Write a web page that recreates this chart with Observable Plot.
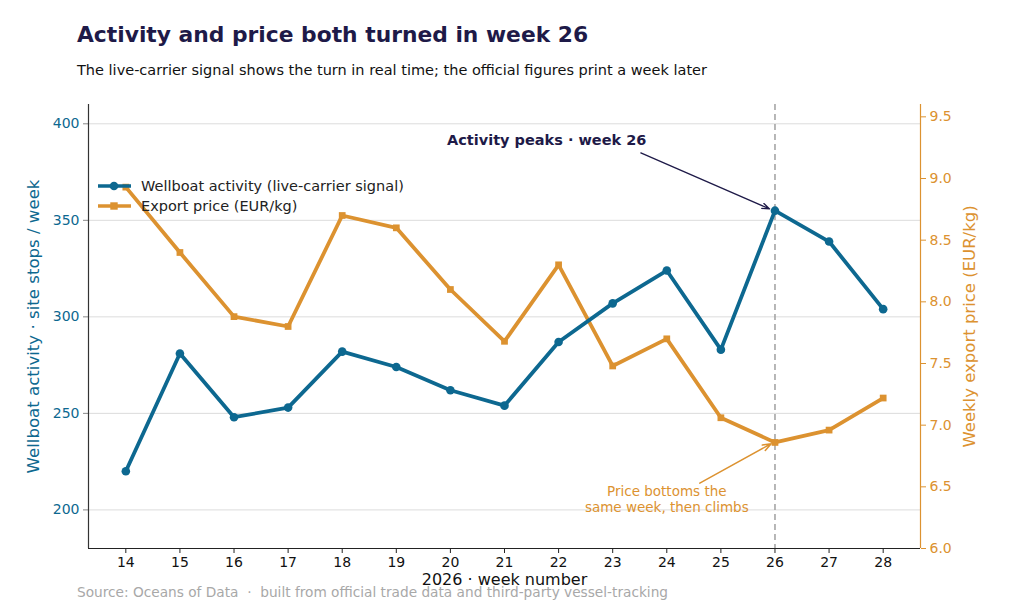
<!DOCTYPE html>
<html><head><meta charset="utf-8">
<script src="https://cdn.jsdelivr.net/npm/d3@7"></script>
<script src="https://cdn.jsdelivr.net/npm/@observablehq/plot@0.6"></script>
<style>
body{margin:0;background:#fff;font-family:"DejaVu Sans",sans-serif;}
#wrap{position:relative;width:1024px;height:616px;overflow:hidden;background:#fff;}
#title{position:absolute;left:77px;top:22px;font-size:21.8px;font-weight:bold;color:#1e1a48;white-space:nowrap;}
#sub{position:absolute;left:77px;top:62px;font-size:14.5px;color:#111;white-space:nowrap;}
#chart{position:absolute;left:0;top:90px;}
#legend{position:absolute;left:98px;top:176px;font-size:14.5px;color:#222;}
#legend .row{display:flex;align-items:center;height:20px;white-space:nowrap;}
#legend svg{margin-right:10px;}
#cap{position:absolute;left:77px;top:584px;font-size:13.7px;color:#a8a8a8;white-space:pre;}
</style></head>
<body><div id="wrap">
<div id="title">Activity and price both turned in week 26</div>
<div id="sub">The live-carrier signal shows the turn in real time; the official figures print a week later</div>
<div id="chart"></div>
<div id="cap">Source: Oceans of Data  ·  built from official trade data and third-party vessel-tracking</div>
<div id="legend"></div>
</div>
<script>
const weeks = [14,15,16,17,18,19,20,21,22,23,24,25,26,27,28];
const activity = [220,281,248,253,282,274,262,254,287,307,324,283,355,339,304];
const price = [8.93,8.40,7.88,7.80,8.70,8.60,8.10,7.68,8.30,7.48,7.70,7.06,6.86,6.96,7.22];
const activityTicks = [200,250,300,350,400];
const priceTicks = [6.0,6.5,7.0,7.5,8.0,8.5,9.0,9.5];
const xDomain = [13.31, 28.69];
const yDomain = [180, 410];
const priceDomain = [6.0, 9.6];
const peakWeek = 26;

const BLUE = "#0d6890";
const ORANGE = "#dc9230";
const NAVY = "#1e1a48";

const toY = p => yDomain[0] + (p - priceDomain[0]) / (priceDomain[1] - priceDomain[0]) * (yDomain[1] - yDomain[0]);
const fromY = v => priceDomain[0] + (v - yDomain[0]) / (yDomain[1] - yDomain[0]) * (priceDomain[1] - priceDomain[0]);

const actData = weeks.map((w,i)=>({week:w, value:activity[i]}));
const priceData = weeks.map((w,i)=>({week:w, value:toY(price[i])}));

// annotations (data units)
const peakNote = {x:21.78, y:391.2, text:"Activity peaks · week 26"};
const peakArrow = {x1:23.52, y1:384.9, x2:25.9, y2:355.9};
const priceNote = {x:24.0, p:6.40, text:"Price bottoms the\nsame week, then climbs"};
const priceArrow = {x1:24.61, p1:6.53, x2:25.93, p2:6.85};

const chart = Plot.plot({
  width:1024, height:526,
  marginTop:14, marginBottom:68, marginLeft:88, marginRight:104,
  style:{fontFamily:"DejaVu Sans", fontSize:"14px", background:"white", overflow:"visible"},
  x:{domain:xDomain, label:null},
  y:{domain:yDomain, label:null},
  marks:[
    Plot.gridY(activityTicks, {stroke:"#dcdcdc", strokeOpacity:1, strokeWidth:1}),
    Plot.ruleX([peakWeek], {stroke:"#a0a0a0", strokeWidth:1.5, strokeDasharray:"6,4"}),
    Plot.axisX(weeks, {tickFormat:d=>String(d), tickSize:5, stroke:"#222", color:"#111", label:null, tickPadding:4}),
    Plot.axisY(activityTicks, {anchor:"left", tickSize:5, color:BLUE, stroke:"#888", label:null, tickPadding:4}),
    Plot.axisY(priceTicks.map(toY), {anchor:"right", tickSize:5, color:ORANGE, stroke:ORANGE, tickFormat:v=>fromY(v).toFixed(1), label:null, tickPadding:4}),
    Plot.ruleX([xDomain[0]], {stroke:"#333", strokeWidth:1.2}),
    Plot.ruleX([xDomain[1]], {stroke:ORANGE, strokeWidth:1.2}),
    Plot.ruleY([yDomain[0]], {stroke:"#222", strokeWidth:1.2}),
    Plot.line(priceData, {x:"week", y:"value", stroke:ORANGE, strokeWidth:3.8}),
    Plot.dot(priceData, {x:"week", y:"value", symbol:"square", r:3.8, fill:ORANGE}),
    Plot.line(actData, {x:"week", y:"value", stroke:BLUE, strokeWidth:3.8}),
    Plot.dot(actData, {x:"week", y:"value", r:4.3, fill:BLUE}),
    Plot.arrow([peakArrow], {x1:"x1", y1:"y1", x2:"x2", y2:"y2", stroke:NAVY, strokeWidth:1.3, headLength:9, headAngle:40}),
    Plot.text([peakNote], {x:"x", y:"y", text:"text", fill:NAVY, fontWeight:"bold", fontSize:14.5}),
    Plot.arrow([priceArrow], {x1:"x1", y1:d=>toY(d.p1), x2:"x2", y2:d=>toY(d.p2), stroke:ORANGE, strokeWidth:1.5, headLength:9, headAngle:40}),
    Plot.text([priceNote], {x:"x", y:d=>toY(d.p), text:"text", fill:ORANGE, fontSize:13.5, lineHeight:1.15}),
    Plot.text(["Wellboat activity · site stops / week"], {frameAnchor:"left", textAnchor:"middle", dx:-55, rotate:-90, fill:BLUE, fontSize:16.6}),
    Plot.text(["Weekly export price (EUR/kg)"], {frameAnchor:"right", textAnchor:"middle", dx:49, rotate:-90, fill:ORANGE, fontSize:16.5}),
    Plot.text(["2026 · week number"], {frameAnchor:"bottom", dy:36, fill:"#111", fontSize:16})
  ]
});
document.getElementById("chart").appendChild(chart);

const legendItems = [
  {label:"Wellboat activity (live-carrier signal)", color:BLUE, symbol:"circle"},
  {label:"Export price (EUR/kg)", color:ORANGE, symbol:"square"}
];
const lg = document.getElementById("legend");
legendItems.forEach(it=>{
  const row = document.createElement("div"); row.className="row";
  const marker = it.symbol==="circle"
    ? `<circle cx="16" cy="7" r="4.3" fill="${it.color}"/>`
    : `<rect x="12.3" y="3.3" width="7.4" height="7.4" fill="${it.color}"/>`;
  row.innerHTML = `<svg width="33" height="14"><line x1="0" y1="7" x2="33" y2="7" stroke="${it.color}" stroke-width="3.6"/>${marker}</svg><span>${it.label}</span>`;
  lg.appendChild(row);
});
</script>
</body></html>
